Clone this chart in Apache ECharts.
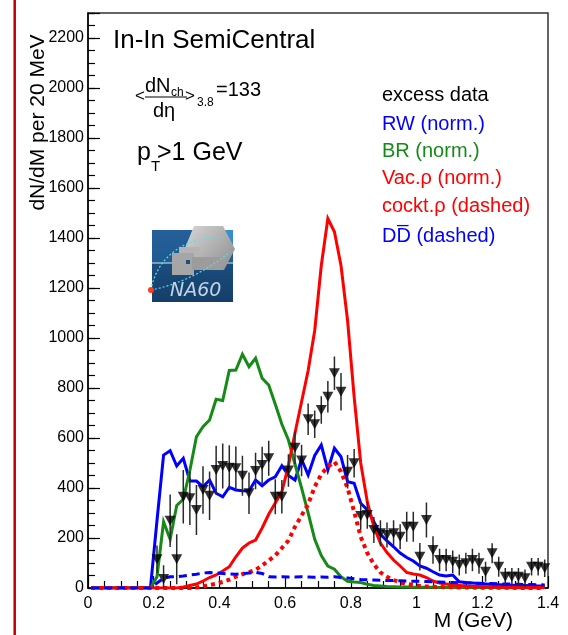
<!DOCTYPE html>
<html>
<head>
<meta charset="utf-8">
<script src="https://cdn.jsdelivr.net/npm/echarts@6/dist/echarts.min.js"></script>
<style>
  html, body { margin: 0; padding: 0; background: #fff; }
  #chart { width: 568px; height: 635px; }
</style>
</head>
<body>
<div id="chart"></div>
<script>
// Mass bin centres (GeV) shared by the model curves
const modelMass = [
  0.01,0.03,0.05,0.07,0.09,0.11,0.13,0.15,0.17,0.19,
  0.21,0.23,0.25,0.27,0.29,0.31,0.33,0.35,0.37,0.39,
  0.41,0.43,0.45,0.47,0.49,0.51,0.53,0.55,0.57,0.59,
  0.61,0.63,0.65,0.67,0.69,0.71,0.73,0.75,0.77,0.79,
  0.81,0.83,0.85,0.87,0.89,0.91,0.93,0.95,0.97,0.99,
  1.01,1.03,1.05,1.07,1.09,1.11,1.13,1.15,1.17,1.19,
  1.21,1.23,1.25,1.27,1.29,1.31,1.33,1.35,1.37,1.39
];

// RW (norm.)
const rwModel = [
  0,0,0,0,0,0,0,0,0,0,
  270,532,549,488,519,428,428,405,432,379,
  365,403,392,389,388,432,409,432,445,489,
  450,432,515,452,530,572,472,559,525,425,
  419,339,312,265,215,188,165,140,122,108,
  88,79,65,52,48,52,25,22,20,18,
  16,14,13,12,11,10,10,9,8,8
];

// BR (norm.)
const brModel = [
  0,0,0,0,0,0,0,0,0,0,
  45,265,195,330,355,470,605,645,672,755,
  750,870,872,935,885,919,839,812,735,655,
  592,495,400,300,195,130,88,75,45,27,
  24,22,15,10,8,6,5,4,4,3,
  3,3,3,2,2,2,2,2,2,2,
  2,2,2,1,1,1,1,1,1,1
];

// Vacuum rho (norm.)
const vacRho = [
  0,0,0,0,0,0,0,0,0,0,
  0,0,0,0,4,10,16,28,42,52,
  68,85,125,160,180,192,240,295,340,385,
  490,620,745,870,1030,1290,1478,1425,1290,1070,
  765,500,345,245,180,142,112,88,62,56,
  52,42,28,20,16,12,10,8,7,6,
  5,4,4,3,3,3,2,2,2,2
];

// Cocktail rho (dashed)
const cocktailRho = [
  0,0,0,0,0,0,0,0,0,0,
  0,0,0,0,0,0,2,6,12,17,
  24,33,45,55,63,72,90,110,130,160,
  190,245,290,335,405,455,485,505,465,400,
  305,205,140,95,62,45,32,22,16,12,
  8,6,5,4,3,3,2,2,2,1,
  1,1,1,1,1,0,0,0,0,0
];

// Open charm DDbar (dashed)
const ddbar = [
  0,0,0,0,0,0,0,0,0,0,
  20,39,45,45,48,52,55,60,62,60,
  58,56,55,57,60,63,58,45,44,45,
  44,44,45,44,43,44,43,45,42,40,
  37,34,33,32,31,30,30,29,28,27,
  27,26,25,24,23,22,21,20,20,19,
  18,18,17,16,16,15,14,14,13,12
];

// Excess data: bin centres, yields and statistical errors
const dataMass = [
  0.21,0.23,0.25,0.27,0.29,0.31,0.33,0.35,0.37,0.39,
  0.41,0.43,0.45,0.47,0.49,0.51,0.53,0.55,0.57,0.59,
  0.61,0.63,0.65,0.67,0.69,0.71,0.73,0.75,0.77,0.79,
  0.81,0.83,0.85,0.87,0.89,0.91,0.93,0.95,0.97,0.99,
  1.01,1.03,1.05,1.07,1.09,1.11,1.13,1.15,1.17,1.19,
  1.21,1.23,1.25,1.27,1.29,1.31,1.33,1.35,1.37,1.39
];
const excess = [
  115,36,269,115,365,359,312,392,369,472,
  488,481,479,449,379,468,492,519,365,365,
  470,561,510,675,655,712,765,859,785,465,
  499,288,292,232,219,212,219,205,245,245,
  125,272,152,112,112,105,92,99,112,99,
  65,139,85,45,45,45,39,85,85,79
];
const excessErr = [
  55,55,105,100,107,107,100,95,97,97,
  90,90,87,80,83,73,73,70,70,67,
  65,65,63,63,55,55,63,67,75,67,
  57,55,55,52,52,50,52,50,60,60,
  55,70,55,45,45,45,42,42,45,42,
  40,40,40,35,35,35,35,35,35,35
];

// Axis settings
const massTicks = { min: 0, max: 1.4, step: 0.2 };
const yieldTicks = { min: 0, max: 2300, step: 200, minorStep: 50 };

const FONT = '"Liberation Sans", Arial, Helvetica, sans-serif';
const BLUE = '#0000ff', GREEN = '#168a16', RED = '#ff0000';

const pairs = (xs, ys) => xs.map((x, i) => [x, ys[i]]);

const chart = echarts.init(document.getElementById('chart'), null, { renderer: 'canvas' });

const lineSeries = (name, ys, color, width, dash) => ({
  name, type: 'line', data: pairs(modelMass, ys),
  showSymbol: false, symbol: 'none', z: 3,
  lineStyle: { color, width, type: dash || 'solid', cap: 'butt', join: 'miter' },
  animation: false
});

const text = (x, y, str, size, color, extra) => ({
  type: 'text', x, y, silent: true,
  style: Object.assign({ text: str, font: size + 'px ' + FONT, fill: color || '#000',
    align: 'left', verticalAlign: 'middle' }, extra || {})
});

const option = {
  animation: false,
  backgroundColor: '#fff',
  grid: { left: 88, right: 20, top: 13, bottom: 47, show: true, borderColor: '#333', borderWidth: 1.5, containLabel: false },
  xAxis: {
    type: 'value', min: massTicks.min, max: massTicks.max, interval: massTicks.step,
    axisLine: { show: true, onZero: false, lineStyle: { color: '#000', width: 1.5 } },
    axisTick: { show: true, inside: true, length: 12, lineStyle: { color: '#000', width: 1.2 } },
    minorTick: { show: true, splitNumber: 4, length: 7, lineStyle: { color: '#000', width: 1.2 } },
    axisLabel: { color: '#000', fontSize: 16, fontFamily: FONT, margin: 8,
      formatter: v => String(parseFloat(v.toFixed(1))) },
    splitLine: { show: false }
  },
  yAxis: [
    {
      type: 'value', min: yieldTicks.min, max: yieldTicks.max, interval: yieldTicks.minorStep,
      axisLine: { show: true, onZero: false, lineStyle: { color: '#000', width: 1.5 } },
      axisTick: { show: true, inside: true, length: 7, lineStyle: { color: '#000', width: 1.2 } },
      axisLabel: { color: '#000', fontSize: 16, fontFamily: FONT, margin: 4,
        formatter: v => (Math.round(v) % yieldTicks.step === 0 && v < yieldTicks.max) ? String(Math.round(v)) : '' },
      splitLine: { show: false }
    },
    {
      type: 'value', position: 'left', min: yieldTicks.min, max: yieldTicks.max, interval: yieldTicks.step,
      axisLine: { show: false },
      axisTick: { show: true, inside: true, length: 12, lineStyle: { color: '#000', width: 1.2 } },
      axisLabel: { show: false },
      splitLine: { show: false }
    }
  ],
  series: [
    lineSeries('RW (norm.)', rwModel, BLUE, 3),
    lineSeries('BR (norm.)', brModel, GREEN, 3),
    lineSeries('Vac.ρ (norm.)', vacRho, RED, 3),
    lineSeries('cockt.ρ (dashed)', cocktailRho, RED, 4, [4, 4]),
    lineSeries('DD̄ (dashed)', ddbar, BLUE, 3, [8, 5]),
    {
      name: 'excess errors', type: 'custom', z: 4,
      data: dataMass.map((m, i) => [m, excess[i], excessErr[i]]),
      encode: { x: 0, y: 1 },
      renderItem: (params, api) => {
        const m = api.value(0), v = api.value(1), e = api.value(2);
        const lo = api.coord([m, Math.max(0, v - e)]);
        const hi = api.coord([m, v + e]);
        return { type: 'line', shape: { x1: lo[0], y1: lo[1], x2: hi[0], y2: hi[1] },
          style: { stroke: '#2a2a2a', lineWidth: 1.5 } };
      },
      animation: false
    },
    {
      name: 'excess data', type: 'scatter', z: 5,
      data: pairs(dataMass, excess),
      symbol: 'triangle', symbolRotate: 180, symbolSize: [11, 10],
      itemStyle: { color: '#000' },
      animation: false
    }
  ],
  graphic: [
    // slide margin rule
    { type: 'line', shape: { x1: 14.7, y1: 0, x2: 14.7, y2: 635 }, style: { stroke: '#c00000', lineWidth: 2.5 }, silent: true },

    // axis titles
    { type: 'text', x: 38.5, y: 122.5, rotation: Math.PI / 2, silent: true,
      style: { text: 'dN/dM per 20 MeV', font: '21px ' + FONT, fill: '#000', align: 'center', verticalAlign: 'middle' } },
    text(513, 621, 'M (GeV)', 21, '#000', { align: 'right' }),

    // header texts
    text(113, 41, 'In-In SemiCentral', 26),
    text(135, 96, '<', 17),
    text(145, 86, 'dN', 20),
    text(171, 92.5, 'ch', 12),
    { type: 'line', shape: { x1: 145, y1: 97, x2: 187, y2: 97 }, style: { stroke: '#000', lineWidth: 1.2 }, silent: true },
    text(153, 111, 'dη', 20),
    text(185, 96, '>', 17),
    text(197, 103, '3.8', 12),
    text(216, 90, '=133', 20),
    text(137, 153, 'p', 25),
    text(151, 167, 'T', 15),
    text(157, 153, '>1 GeV', 25),

    // curve key
    text(382, 95, 'excess data', 20, '#000'),
    text(382, 124.5, 'RW (norm.)', 20, BLUE),
    text(382, 151.5, 'BR (norm.)', 20, GREEN),
    text(382, 178.5, 'Vac.ρ (norm.)', 20, RED),
    text(382, 206.5, 'cockt.ρ (dashed)', 20, RED),
    text(382, 236, 'DD\u0305 (dashed)', 20, BLUE),

    // experiment logo
    {
      type: 'group', x: 152, y: 230, silent: true,
      children: [
        { type: 'rect', shape: { x: 0, y: 0, width: 81, height: 72 },
          style: { fill: new echarts.graphic.LinearGradient(0, 0, 0, 1, [
            { offset: 0, color: '#245f98' }, { offset: 0.45, color: '#1f5a90' },
            { offset: 0.47, color: '#1a4d7e' }, { offset: 1, color: '#143e68' }]) } },
        { type: 'rect', shape: { x: 50, y: 0, width: 31, height: 22 },
          style: { fill: '#3f9fe0', opacity: 0.75 } },
        { type: 'line', shape: { x1: 0, y1: 33, x2: 81, y2: 33 }, style: { stroke: '#dfe8f0', lineWidth: 1 } },
        { type: 'polygon', shape: { points: [[42, -4], [71, -4], [83, 19], [72, 40], [45, 40], [33, 18]] },
          style: { fill: new echarts.graphic.LinearGradient(0, 0, 1, 1, [
            { offset: 0, color: '#d6d6d6' }, { offset: 1, color: '#8d8d8d' }]) } },
        { type: 'rect', shape: { x: 27, y: 17, width: 21, height: 20 }, style: { fill: '#b4b4b4' } },
        { type: 'rect', shape: { x: 20, y: 23, width: 22, height: 22 }, style: { fill: '#a6a6a6' } },
        { type: 'rect', shape: { x: 40, y: 27, width: 30, height: 13 }, style: { fill: '#9c9c9c' } },
        { type: 'rect', shape: { x: 34, y: 30, width: 4, height: 4 }, style: { fill: '#1c4f80' } },
        { type: 'bezierCurve', shape: { x1: -1, y1: 60, cpx1: 4, cpy1: 30, cpx2: 30, cpy2: 6, x2: 70, y2: 8 },
          style: { stroke: '#58e0ea', lineWidth: 1.2, lineDash: [2, 2], fill: null } },
        { type: 'bezierCurve', shape: { x1: -1, y1: 60, cpx1: 20, cpy1: 56, cpx2: 50, cpy2: 45, x2: 78, y2: 22 },
          style: { stroke: '#58e0ea', lineWidth: 1.2, lineDash: [2, 2], fill: null } },
        { type: 'circle', shape: { cx: -1, cy: 60, r: 3 }, style: { fill: '#ff3b1c' } },
        { type: 'text', x: 18, y: 61, style: { text: 'NA60', font: 'italic 19px "DejaVu Sans"', fill: '#c3d4e4', verticalAlign: 'middle' } }
      ]
    }
  ]
};

chart.setOption(option);
</script>
</body>
</html>
